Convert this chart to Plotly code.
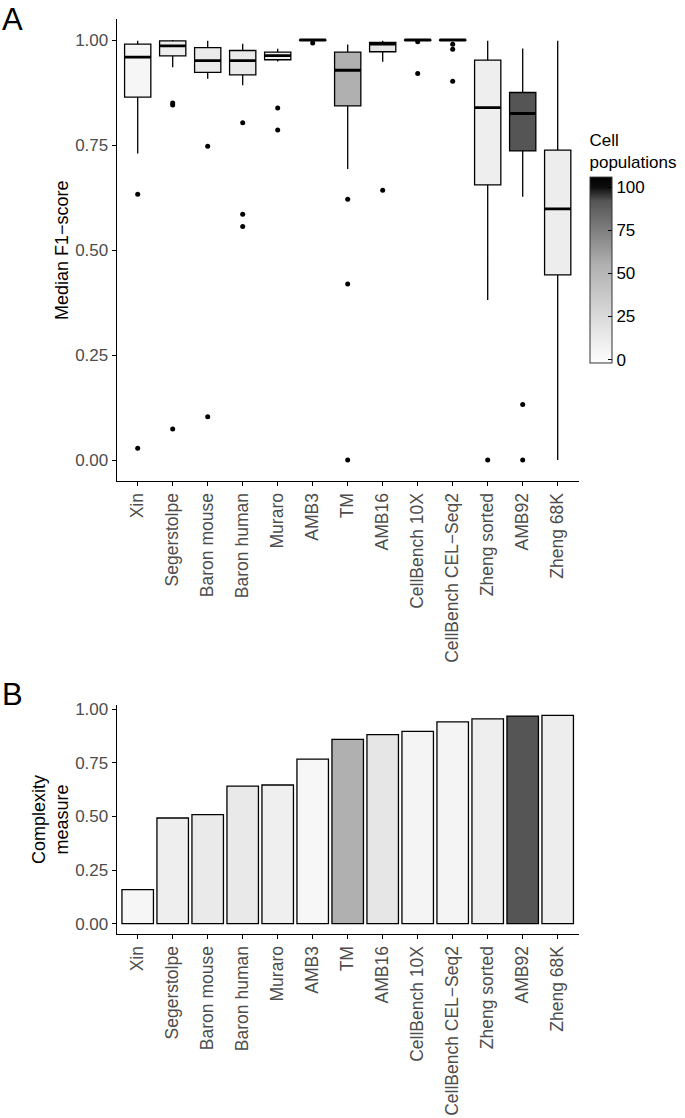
import plotly.graph_objects as go
from plotly.colors import sample_colorscale

# ---------------- data ----------------
datasets = ["Xin", "Segerstolpe", "Baron mouse", "Baron human", "Muraro", "AMB3", "TM",
            "AMB16", "CellBench 10X", "CellBench CEL\u2212Seq2", "Zheng sorted", "AMB92", "Zheng 68K"]
cell_populations = [4, 10, 13, 14, 9, 3, 55, 16, 5, 5, 10, 92, 11]

f1_upper = [0.998, 1.000, 0.998, 0.991, 0.979, 1.000, 0.989, 0.998, 1.000, 1.000, 0.998, 0.980, 0.998]
f1_q3 = [0.990, 0.998, 0.982, 0.975, 0.971, 1.000, 0.971, 0.994, 1.000, 1.000, 0.952, 0.875, 0.738]
f1_median = [0.959, 0.986, 0.951, 0.951, 0.963, 1.000, 0.928, 0.990, 1.000, 1.000, 0.839, 0.825, 0.598]
f1_q1 = [0.864, 0.962, 0.923, 0.917, 0.953, 0.999, 0.843, 0.972, 0.999, 0.999, 0.655, 0.736, 0.441]
f1_lower = [0.730, 0.935, 0.908, 0.892, 0.949, 0.998, 0.693, 0.948, 0.998, 0.998, 0.381, 0.627, 0.000]
f1_outliers = [
    [0.633, 0.028],
    [0.850, 0.845, 0.074],
    [0.747, 0.103],
    [0.803, 0.585, 0.556],
    [0.838, 0.786],
    [0.993],
    [0.621, 0.419, 0.000],
    [0.642],
    [0.996, 0.920],
    [0.990, 0.978, 0.902],
    [0.000],
    [0.132, 0.000],
    [],
]

complexity = [0.159, 0.493, 0.509, 0.642, 0.647, 0.768, 0.860, 0.882, 0.897, 0.942, 0.956, 0.969, 0.972]

y_ticks = [0.0, 0.25, 0.5, 0.75, 1.0]
legend_ticks = [0, 25, 50, 75, 100]

# ---------------- style ----------------
W, H = 685, 1118
FONT = "Liberation Sans, Arial, sans-serif"
TICK_GREY = "#4d4d4d"
CMIN, CMAX = -2, 106
# colour stops given in "cell populations" units
colour_stops = [(-2, "#fcfcfc"), (0, "#fbfbfb"), (16, "#e6e6e6"), (55, "#b0b0b0"),
                (92, "#555555"), (100, "#0d0d0d"), (106, "#000000")]
colorscale = [[(v - CMIN) / (CMAX - CMIN), c] for v, c in colour_stops]

def px_x(p):
    return p / W

def px_y(p):
    return 1 - p / H

xdom = [px_x(116.7), px_x(578.7)]
ydomA = [px_y(481), px_y(19)]
ydomB = [px_y(934), px_y(705)]

fills = sample_colorscale(colorscale, [(v - CMIN) / (CMAX - CMIN) for v in cell_populations])

fig = go.Figure()
idx = list(range(len(datasets)))
BOXW = 0.75

for i in idx:
    fig.add_trace(go.Box(
        x=[i], q1=[f1_q1[i]], median=[f1_median[i]], q3=[f1_q3[i]],
        lowerfence=[f1_lower[i]], upperfence=[f1_upper[i]],
        width=BOXW, whiskerwidth=0, fillcolor=fills[i],
        line=dict(color="black", width=1.3), boxpoints=False,
        showlegend=False, xaxis="x", yaxis="y", hoverinfo="skip"))

# thick median lines
mx, my = [], []
for i in idx:
    mx += [i - BOXW / 2, i + BOXW / 2, None]
    my += [f1_median[i], f1_median[i], None]
fig.add_trace(go.Scatter(x=mx, y=my, mode="lines", line=dict(color="black", width=2.8),
                         showlegend=False, xaxis="x", yaxis="y", hoverinfo="skip"))

# outliers
ox, oy = [], []
for i in idx:
    for v in f1_outliers[i]:
        ox.append(i)
        oy.append(v)
fig.add_trace(go.Scatter(x=ox, y=oy, mode="markers", marker=dict(color="black", size=5),
                         showlegend=False, xaxis="x", yaxis="y", hoverinfo="skip"))

# bars (panel B) with the colour scale / colorbar
fig.add_trace(go.Bar(
    x=idx, y=complexity, width=0.9, xaxis="x2", yaxis="y2", showlegend=False,
    marker=dict(color=cell_populations, colorscale=colorscale, cmin=CMIN, cmax=CMAX,
                line=dict(color="black", width=1.3), showscale=True,
                colorbar=dict(
                    x=px_x(590), xanchor="left", y=px_y(363), yanchor="bottom",
                    xref="paper", yref="paper",
                    lenmode="pixels", len=232, thicknessmode="pixels", thickness=22,
                    xpad=0, ypad=0, outlinewidth=1, outlinecolor="#333333",
                    tickvals=legend_ticks, ticks="inside", ticklen=4, tickcolor="black",
                    tickfont=dict(family=FONT, size=17, color="black"),
                    title=dict(text="Cell<br>populations", side="top",
                               font=dict(family=FONT, size=17, color="black")))),
    hoverinfo="skip"))

axis_common = dict(showline=True, linecolor="black", linewidth=1.1, ticks="outside",
                   ticklen=4, tickcolor="black", tickwidth=1.1, showgrid=False, zeroline=False,
                   tickfont=dict(family=FONT, size=17, color=TICK_GREY), automargin=False)

xaxis_common = dict(axis_common, range=[-0.6, len(datasets) - 0.4], tickvals=idx, ticktext=datasets,
                    tickangle=-90, domain=xdom,
                    tickfont=dict(family=FONT, size=17.5, color=TICK_GREY))
yticktext = ["%.2f" % v for v in y_ticks]

fig.update_layout(
    width=W, height=H, margin=dict(l=0, r=0, t=0, b=0),
    paper_bgcolor="white", plot_bgcolor="white", boxmode="overlay",
    xaxis=dict(xaxis_common, anchor="y"),
    yaxis=dict(axis_common, domain=ydomA, range=[-0.05, 1.05], tickvals=y_ticks,
               ticktext=yticktext, anchor="x"),
    xaxis2=dict(xaxis_common, anchor="y2"),
    yaxis2=dict(axis_common, domain=ydomB, range=[-0.0486, 1.0206], tickvals=y_ticks,
                ticktext=yticktext, anchor="x2"),
    font=dict(family=FONT, color="black"),
    annotations=[
        dict(text="A", x=0, y=1, xref="paper", yref="paper", xanchor="left", yanchor="top",
             showarrow=False, font=dict(family=FONT, size=31, color="black")),
        dict(text="B", x=0, y=px_y(675), xref="paper", yref="paper", xanchor="left", yanchor="top",
             showarrow=False, font=dict(family=FONT, size=31, color="black")),
        dict(text="Median F1\u2212score", x=px_x(62), y=px_y(250), xref="paper", yref="paper",
             xanchor="center", yanchor="middle", textangle=-90, showarrow=False,
             font=dict(family=FONT, size=18, color="black")),
        dict(text="Complexity<br>measure", x=px_x(50), y=px_y(819), xref="paper", yref="paper",
             xanchor="center", yanchor="middle", textangle=-90, showarrow=False,
             font=dict(family=FONT, size=18, color="black")),
    ],
)

fig.write_html("out.html", config={"displayModeBar": False},
               post_script="document.body.style.margin='0';document.body.style.overflow='hidden';")
